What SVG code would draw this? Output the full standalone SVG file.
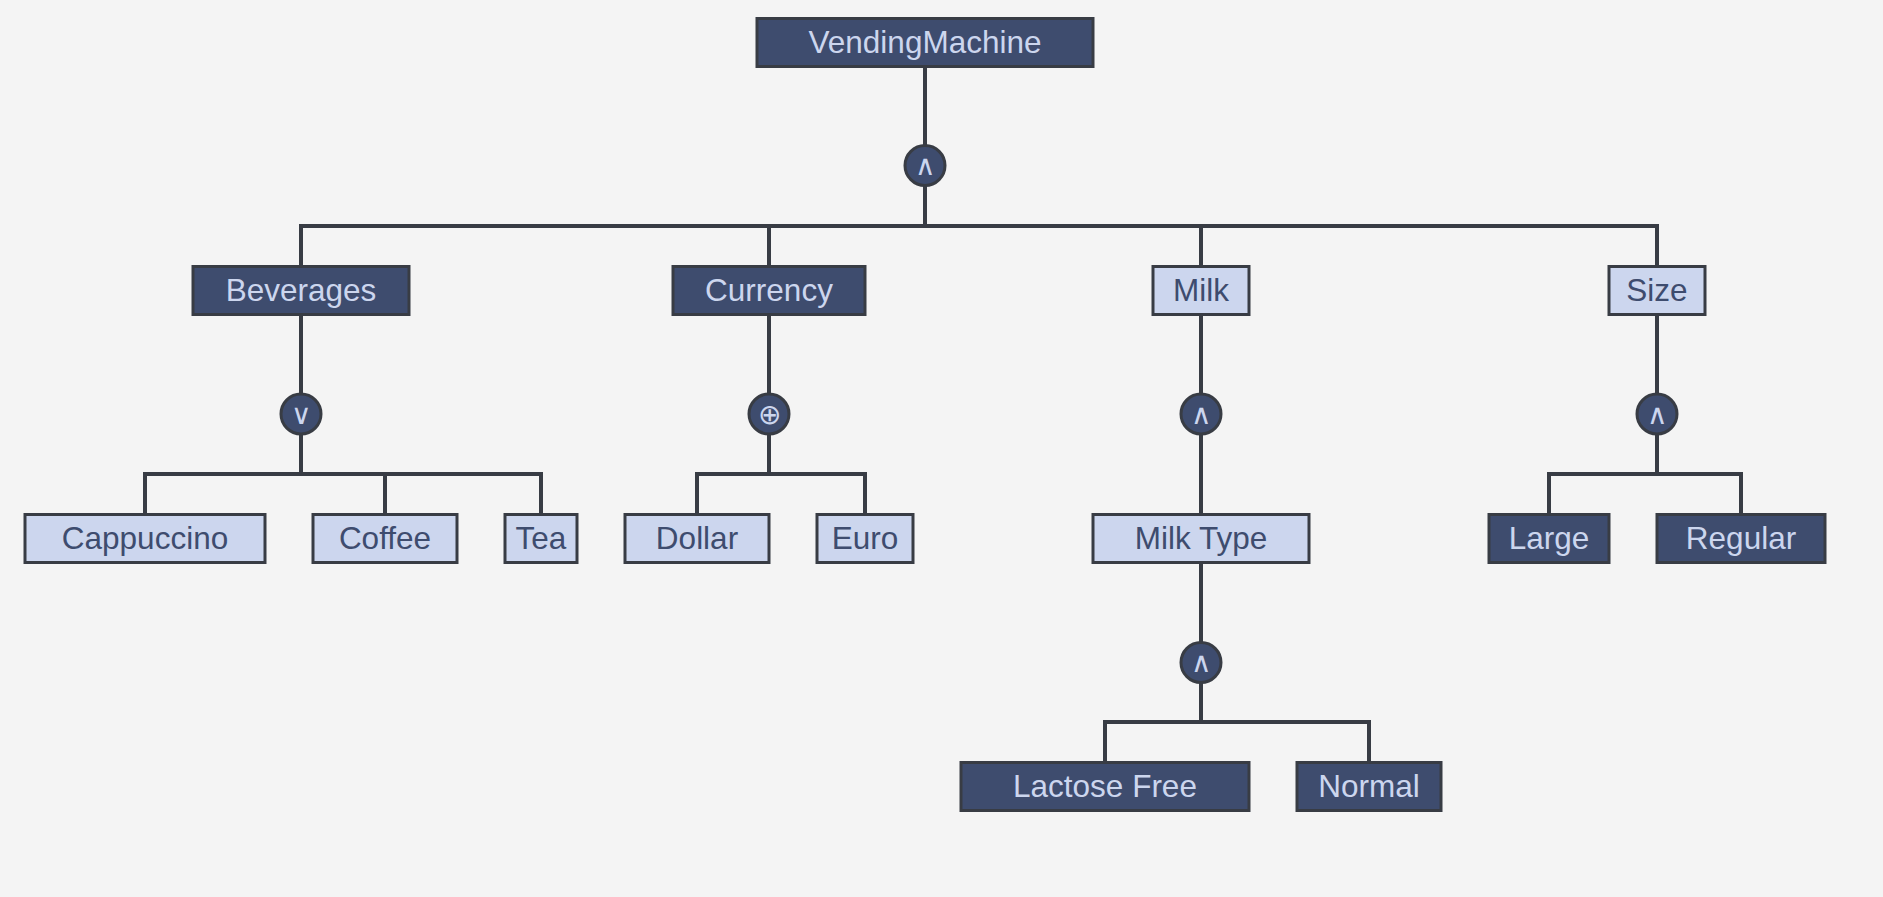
<svg xmlns="http://www.w3.org/2000/svg" width="1883" height="897" viewBox="0 0 1883 897">
<style>
.bg{fill:#f4f4f4}
.dk rect{fill:#3e4c6e;stroke:#383c44;stroke-width:3}
.lt rect{fill:#ccd6ee;stroke:#383c44;stroke-width:3}
.dk text{fill:#ccd6ee}
.lt text{fill:#3e4c6e}
text{font-family:"Liberation Sans",Arial,sans-serif;font-size:31.5px;text-anchor:middle}
.op circle{fill:#3e4c6e;stroke:#383c44;stroke-width:3}
.op text{fill:#ccd6ee;font-family:"DejaVu Sans",sans-serif;font-weight:200;font-size:28px}
#connectors path{fill:none;stroke:#383c44;stroke-width:4;stroke-linejoin:miter}
</style>
<rect class="bg" x="0" y="0" width="1883" height="897"/>
<g id="connectors">
<path d="M925 66.5V226"/>
<path d="M301 266.5V226H1657V266.5"/>
<path d="M769 226V266.5"/>
<path d="M1201 226V266.5"/>
<path d="M301 314.5V474"/>
<path d="M145 514.5V474H541V514.5"/>
<path d="M385 474V514.5"/>
<path d="M769 314.5V474"/>
<path d="M697 514.5V474H865V514.5"/>
<path d="M1201 314.5V514.5"/>
<path d="M1657 314.5V474"/>
<path d="M1549 514.5V474H1741V514.5"/>
<path d="M1201 562.5V722"/>
<path d="M1105 762.5V722H1369V762.5"/>
</g>
<g id="op-root" class="op"><circle cx="925" cy="165.5" r="20"/><text x="925" y="175">∧</text></g>
<g id="op-beverages" class="op"><circle cx="301" cy="414" r="20"/><text x="301" y="423.5">∨</text></g>
<g id="op-currency" class="op"><circle cx="769" cy="414" r="20"/><text x="769" y="423.5">⊕</text></g>
<g id="op-milk" class="op"><circle cx="1201" cy="414" r="20"/><text x="1201" y="423.5">∧</text></g>
<g id="op-size" class="op"><circle cx="1657" cy="414" r="20"/><text x="1657" y="423.5">∧</text></g>
<g id="op-milktype" class="op"><circle cx="1201" cy="662.5" r="20"/><text x="1201" y="672">∧</text></g>
<g id="VendingMachine" class="dk"><rect x="757" y="18.5" width="336" height="48"/><text x="925" y="52.5">VendingMachine</text></g>
<g id="Beverages" class="dk"><rect x="193" y="266.5" width="216" height="48"/><text x="301" y="300.5">Beverages</text></g>
<g id="Currency" class="dk"><rect x="673" y="266.5" width="192" height="48"/><text x="769" y="300.5">Currency</text></g>
<g id="Milk" class="lt"><rect x="1153" y="266.5" width="96" height="48"/><text x="1201" y="300.5">Milk</text></g>
<g id="Size" class="lt"><rect x="1609" y="266.5" width="96" height="48"/><text x="1657" y="300.5">Size</text></g>
<g id="Cappuccino" class="lt"><rect x="25" y="514.5" width="240" height="48"/><text x="145" y="548.5">Cappuccino</text></g>
<g id="Coffee" class="lt"><rect x="313" y="514.5" width="144" height="48"/><text x="385" y="548.5">Coffee</text></g>
<g id="Tea" class="lt"><rect x="505" y="514.5" width="72" height="48"/><text x="541" y="548.5">Tea</text></g>
<g id="Dollar" class="lt"><rect x="625" y="514.5" width="144" height="48"/><text x="697" y="548.5">Dollar</text></g>
<g id="Euro" class="lt"><rect x="817" y="514.5" width="96" height="48"/><text x="865" y="548.5">Euro</text></g>
<g id="MilkType" class="lt"><rect x="1093" y="514.5" width="216" height="48"/><text x="1201" y="548.5">Milk Type</text></g>
<g id="Large" class="dk"><rect x="1489" y="514.5" width="120" height="48"/><text x="1549" y="548.5">Large</text></g>
<g id="Regular" class="dk"><rect x="1657" y="514.5" width="168" height="48"/><text x="1741" y="548.5">Regular</text></g>
<g id="LactoseFree" class="dk"><rect x="961" y="762.5" width="288" height="48"/><text x="1105" y="796.5">Lactose Free</text></g>
<g id="Normal" class="dk"><rect x="1297" y="762.5" width="144" height="48"/><text x="1369" y="796.5">Normal</text></g>
</svg>
